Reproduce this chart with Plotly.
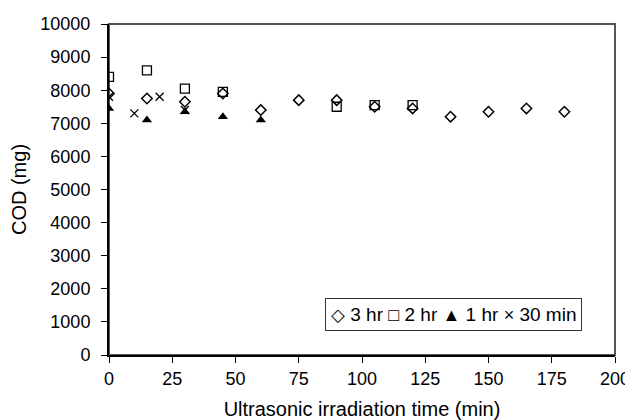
import plotly.graph_objects as go

# === Data ===
t_3hr = [0, 15, 30, 45, 60, 75, 90, 105, 120, 135, 150, 165, 180]
cod_3hr = [7900, 7750, 7650, 7900, 7400, 7700, 7700, 7500, 7450, 7200, 7350, 7450, 7350]

t_2hr = [0, 15, 30, 45, 90, 105, 120]
cod_2hr = [8400, 8600, 8050, 7950, 7500, 7550, 7550]

t_1hr = [0, 15, 30, 45, 60]
cod_1hr = [7450, 7100, 7350, 7200, 7100]

t_30min = [0, 10, 20, 30]
cod_30min = [7800, 7300, 7800, 7400]

series_names = ["3 hr", "2 hr", "1 hr", "30 min"]
legend_glyphs = ["\u25c7", "\u25a1", "\u25b2", "\u00d7"]

font = "Liberation Sans, Arial, sans-serif"

fig = go.Figure()
fig.add_trace(go.Scatter(x=t_3hr, y=cod_3hr, mode="markers", name=series_names[0],
                         marker=dict(symbol="diamond-open", size=8, color="black",
                                     line=dict(width=1.5, color="black"))))
fig.add_trace(go.Scatter(x=t_2hr, y=cod_2hr, mode="markers", name=series_names[1],
                         marker=dict(symbol="square-open", size=9, color="black",
                                     line=dict(width=1.3, color="black"))))
fig.add_trace(go.Scatter(x=t_1hr, y=cod_1hr, mode="markers", name=series_names[2],
                         marker=dict(symbol="triangle-up", size=9, color="black")))
fig.add_trace(go.Scatter(x=t_30min, y=cod_30min, mode="markers", name=series_names[3],
                         marker=dict(symbol="x-thin", size=8, color="black",
                                     line=dict(width=1.3, color="black"))))

# gray frame around plot area
fig.add_shape(type="rect", xref="paper", yref="paper", x0=0, y0=0, x1=1, y1=1,
              line=dict(color="#555555", width=2), layer="below")

# compact legend box, like the original spreadsheet legend
parts = []
for g, n in zip(legend_glyphs, series_names):
    parts.append("<span style='font-size:18px'>%s</span> %s" % (g, n))
legend_text = " ".join(parts)
fig.add_annotation(xref="paper", yref="paper", x=0.68, y=0.122,
                   xanchor="center", yanchor="middle", showarrow=False,
                   text=legend_text, font=dict(size=19), bgcolor="white",
                   bordercolor="#333333", borderwidth=1, borderpad=5)

fig.update_layout(
    width=625, height=412,
    margin=dict(l=101, r=18, t=16, b=65),
    plot_bgcolor="white", paper_bgcolor="white",
    font=dict(family=font, size=18, color="black"),
    showlegend=False,
    xaxis=dict(range=[0, 200], tickvals=list(range(0, 201, 25)), showgrid=False,
               zeroline=False, showline=True, linecolor="black", linewidth=2,
               ticks="outside", ticklen=6, tickcolor="black", automargin=False,
               title=dict(text="Ultrasonic irradiation time (min)", font=dict(size=20),
                          standoff=15)),
    yaxis=dict(range=[0, 10000], tickvals=list(range(0, 10001, 1000)), tickformat="d",
               showgrid=False, zeroline=False, showline=True, linecolor="black",
               linewidth=2, ticks="outside", ticklen=6, tickcolor="black", automargin=False,
               ticklabelstandoff=7,
               title=dict(text="COD (mg)", font=dict(size=20), standoff=12)),
)

fig.write_html("out.html")
